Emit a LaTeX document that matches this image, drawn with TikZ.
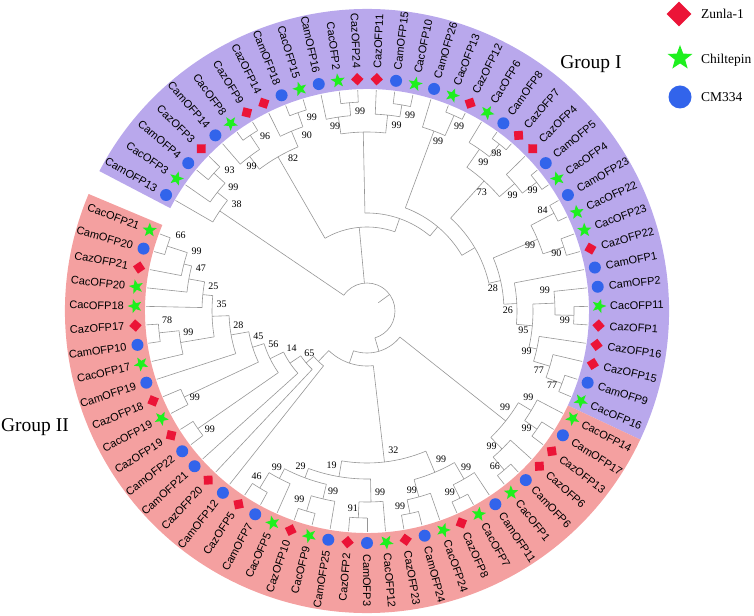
\documentclass[tikz,border=0pt]{standalone}
\usepackage{fontspec}
\newfontfamily\lsans{Liberation Sans}
\newfontfamily\lserif{Liberation Serif}
\usetikzlibrary{shapes.geometric}
\definecolor{bandI}{RGB}{185,168,236}
\definecolor{bandII}{RGB}{244,160,160}
\definecolor{brc}{RGB}{150,150,150}
\definecolor{cmblue}{RGB}{50,100,235}
\definecolor{znred}{RGB}{235,20,55}
\definecolor{chgreen}{RGB}{30,240,30}
\newcommand\setnode[3]{\expandafter\xdef\csname na#1\endcsname{#2}\expandafter\xdef\csname nr#1\endcsname{#3}}
\newcommand\na[1]{\csname na#1\endcsname}
\newcommand\nr[1]{\csname nr#1\endcsname}
\newcommand\clade[4]{%
  \pgfmathsetmacro\cladeang{(\na{#2}+\na{#3})/2}%
  \setnode{#1}{\cladeang}{#4}%
  \draw[branch] (\na{#2}:#4pt) arc[start angle=\na{#2}, end angle=\na{#3}, radius=#4pt];
  \draw[branch] (\na{#2}:#4pt) -- (\na{#2}:\nr{#2}pt);
  \draw[branch] (\na{#3}:#4pt) -- (\na{#3}:\nr{#3}pt);
}
\tikzset{
  branch/.style={draw=brc, line width=0.6pt},
  symc/.style={circle, fill=cmblue, minimum size=12pt, inner sep=0pt},
  syms/.style={star, star points=5, star point ratio=2.4, fill=chgreen, minimum size=15pt, inner sep=0pt},
  symd/.style={diamond, fill=znred, minimum size=12.6pt, inner sep=0pt},
  leaflab/.style={font=\lsans\fontsize{11}{12}\selectfont, inner sep=0pt, text depth=0pt},
  bs/.style={font=\lserif\fontsize{10}{10}\selectfont, inner sep=0pt},
  grp/.style={font=\lserif\fontsize{19.5}{20}\selectfont, inner sep=0pt},
  legtxt/.style={font=\lserif\fontsize{13.5}{14}\selectfont, inner sep=0pt, anchor=west}
}
\begin{document}
\begin{tikzpicture}
\useasboundingbox (-367pt,-304pt) rectangle (387pt,311pt);
% bands
\fill[bandI] (152.4:222pt) arc[start angle=152.4, end angle=-25.2, radius=222pt] -- (-25.2:302pt) arc[start angle=-25.2, end angle=152.4, radius=302pt] -- cycle;
\fill[bandII] (-25.2:222pt) arc[start angle=-25.2, end angle=-202.8, radius=222pt] -- (-202.8:302pt) arc[start angle=-202.8, end angle=-25.2, radius=302pt] -- cycle;
% leaves
\foreach \i in {0,...,73}{\pgfmathsetmacro\lang{150-4.8*\i}\setnode{L\i}{\lang}{221}}
% Group I clades
\clade{Y93}{L2}{L3}{206}
\clade{X99}{L1}{Y93}{191}
\clade{N38}{L0}{X99}{178}
\clade{N96}{L5}{L6}{211}
\clade{P99}{L4}{N96}{194}
\clade{Q99}{L8}{L9}{210}
\clade{Q90}{L7}{Q99}{195}
\clade{N82}{P99}{Q90}{178}
\clade{T1a}{L11}{L12}{209}
\clade{Top1}{L10}{T1a}{196}
\clade{R2a}{L14}{L15}{209}
\clade{R2}{L13}{R2a}{197}
\clade{R}{Top1}{R2}{179}
\clade{S1a}{L17}{L18}{214}
\clade{S1}{L16}{S1a}{192}
\clade{N98}{L20}{L21}{213}
\clade{N99d}{L19}{N98}{197}
\clade{N99e}{L23}{L24}{213}
\clade{N99f}{L22}{N99e}{195}
\clade{N73}{N99d}{N99f}{175}
\clade{N84}{L25}{L26}{211}
\clade{N90}{L27}{L28}{207}
\clade{N99c}{N84}{N90}{185}
\clade{N99g}{L31}{L32}{207}
\clade{N99h}{L30}{N99g}{188}
\clade{N77a}{L35}{L36}{208}
\clade{N77b}{L34}{N77a}{191}
\clade{N99i}{L33}{N77b}{174}
\clade{N95}{N99h}{N99i}{166}
\clade{N26}{L29}{N95}{150}
\clade{N28}{N99c}{N26}{137}
\clade{Z}{N73}{N28}{125}
\clade{T3}{S1}{Z}{110}
\clade{T2}{R}{T3}{98}
\clade{G1b}{N82}{T2}{84}
% Group II clades
\clade{A1}{L38}{L39}{207}
\clade{A}{L37}{A1}{192}
\clade{N66b}{L41}{L42}{210}
\clade{B}{L40}{N66b}{193}
\clade{LR}{A}{B}{177}
\clade{Na}{L44}{L45}{209}
\clade{Nb}{L43}{Na}{194}
\clade{Ne}{L47}{L48}{207}
\clade{Nd}{L46}{Ne}{193}
\clade{Nc}{Nb}{Nd}{175}
\clade{N91}{L50}{L51}{207}
\clade{N99j}{L49}{N91}{191}
\clade{N99k}{L53}{L54}{209}
\clade{N99l}{L52}{N99k}{193}
\clade{N46}{L56}{L57}{207}
\clade{N99m}{L55}{N46}{189}
\clade{N29}{N99l}{N99m}{178}
\clade{N19}{N99j}{N29}{168}
\clade{N32}{Nc}{N19}{152}
\clade{N99n}{L61}{L62}{206}
\clade{N99o}{L63}{L64}{202}
\clade{N78}{L67}{L68}{209}
\clade{C1}{L66}{N78}{189}
\clade{N66c}{L72}{L73}{210}
\clade{N99u}{L71}{N66c}{189}
\clade{N47}{L70}{N99u}{181}
\clade{N25}{L69}{N47}{165}
\clade{N35}{C1}{N25}{155}
\clade{N28b}{L65}{N35}{138}
\clade{N45}{N99o}{N28b}{120}
\clade{N56}{N99n}{N45}{108}
\clade{N14}{L60}{N56}{93}
\clade{N65}{L59}{N14}{80}
\clade{X}{L58}{N65}{70}
\clade{G3}{N32}{X}{55}
\clade{G2}{LR}{G3}{42}
% root
\draw[branch] (\na{N38}:28pt) arc[start angle=\na{N38}, end angle=\na{G2}, radius=28pt];
\draw[branch] (\na{N38}:28pt) -- (\na{N38}:\nr{N38}pt);
\draw[branch] (\na{G1b}:28pt) -- (\na{G1b}:\nr{G1b}pt);
\draw[branch] (\na{G2}:28pt) -- (\na{G2}:\nr{G2}pt);
\pgfmathsetmacro\rootang{(\na{N38}+\na{G2})/2}
\coordinate (rootin) at (\rootang:28pt);
\coordinate (rootstem) at (\rootang:14pt);
\draw[branch] (rootin) -- (rootstem);
% symbols
\foreach \i in {0,2,4,8,10,14,16,20,23,25,29,30,35,38,41,43,47,50,52,56,58,60,61,65,67,72}{\node[symc] (s\i) at (\na{L\i}:232pt) {};}
\foreach \i in {1,5,9,11,15,17,19,24,26,27,31,36,37,42,44,46,49,53,55,63,66,69,70,73}{\node[syms, rotate=\na{L\i}-90] (s\i) at (\na{L\i}:232pt) {};}
\foreach \i in {3,6,7,12,13,18,21,22,28,32,33,34,39,40,45,48,51,54,57,59,62,64,68,71}{\node[symd, rotate=\na{L\i}-90] (s\i) at (\na{L\i}:232pt) {};}
% leaf labels
\foreach \nm [count=\i from 0] in {CamOFP13, CacOFP3, CamOFP4, CazOFP3, CamOFP14, CacOFP8, CazOFP9, CazOFP14, CamOFP18, CacOFP15, CamOFP16, CacOFP2, CazOFP24, CazOFP11, CamOFP15, CacOFP10, CamOFP26, CacOFP13, CazOFP12, CacOFP6, CamOFP8, CazOFP7, CazOFP4, CamOFP5, CacOFP4, CamOFP23, CacOFP22, CacOFP23, CazOFP22, CamOFP1, CamOFP2, CacOFP11, CazOFP1, CazOFP16, CazOFP15, CamOFP9, CacOFP16, CacOFP14, CamOFP17, CazOFP13, CazOFP6, CamOFP6, CacOFP1, CamOFP11, CacOFP7, CazOFP8, CacOFP24, CamOFP24, CazOFP23, CacOFP12, CamOFP3, CazOFP2, CamOFP25, CacOFP9, CazOFP10, CacOFP5, CamOFP7, CazOFP5, CamOFP12, CazOFP20, CamOFP21, CamOFP22, CazOFP19, CacOFP19, CazOFP18, CamOFP19, CacOFP17, CamOFP10, CazOFP17, CacOFP18, CacOFP20, CazOFP21, CamOFP20, CacOFP21}{%
  \pgfmathsetmacro\lang{150-4.8*\i}%
  \pgfmathtruncatemacro\flip{and(\lang>-90.5,\lang<90)}%
  \ifnum\flip=1
    \node[leaflab, rotate=\lang, anchor=west] (t\i) at (\lang:243pt) {\nm};
  \else
    \node[leaflab, rotate=\lang-180, anchor=east] (t\i) at (\lang:243pt) {\nm};
  \fi
}
% bootstrap values
\foreach \ang/\rad/\val [count=\k] in {140.6/168.6/38, 137.1/182.5/99, 134.2/197/93, 128.6/185/99, 120.3/202/96, 115.8/170/82, 108.9/186/90, 105.9/201/99, 99.8/187/99, 92/200/99, 77.6/200.7/99, 80.9/188/99, 63.5/206.7/99, 67.2/183.7/99, 50.6/204/98, 51.9/188.5/99, 46.1/165.5/73, 38.5/186/99, 36/204.7/99, 29.9/202.6/84, 22/176/99, 16.9/198/90, 10.2/128/28, 0.4/141/26, 6.7/179/99, -6.9/157.5/95, -2.6/198/99, -14.3/164.8/99, -19.1/182/77, -21.8/199.5/77, -34.9/168.3/99, -28.1/183/99, -36.3/198/99, -47.4/184/99, -50.6/201.5/66, -79.3/141.5/32, -63.4/165.5/99, -57.6/185/99, -65.5/199.7/99, -76/185/99, -80.4/198.5/99, -85.9/182/99, -94.1/197.8/91, -102.9/158.7/19, -113.1/169/29, -100.6/183.8/99, -109.8/200/99, -123.8/198.5/46, -120/180.5/99, -143/196.6/99, -153.3/192.6/99, -144.1/71.2/65, -154/83.8/14, -160.4/99.4/56, -167/111.5/45, -173.8/129.4/28, -173.2/180/99, -177.4/200/78, 177.2/145.5/35, 171/155.6/25, 165.4/171.6/47, 160.8/180.3/99, 158/201/66}{%
  \node[bs] (b\k) at (\ang:\rad pt) {\val};
}
% group labels
\node[grp] (g1) at (224pt,247pt) {Group I};
\node[grp] (g2) at (-332pt,-116pt) {Group II};
% legend
\node[diamond, fill=znred, minimum size=25pt, inner sep=0pt] (lz) at (312pt,297pt) {};
\node[star, star points=5, star point ratio=2.4, fill=chgreen, minimum size=26pt, inner sep=0pt] (lc) at (313pt,253pt) {};
\node[circle, fill=cmblue, minimum size=23pt, inner sep=0pt] (lm) at (313pt,214pt) {};
\node[legtxt] (tz) at (334pt,297pt) {Zunla-1};
\node[legtxt] (tc) at (334pt,251pt) {Chiltepin};
\node[legtxt] (tm) at (334pt,214pt) {CM334};
\end{tikzpicture}
\end{document}
